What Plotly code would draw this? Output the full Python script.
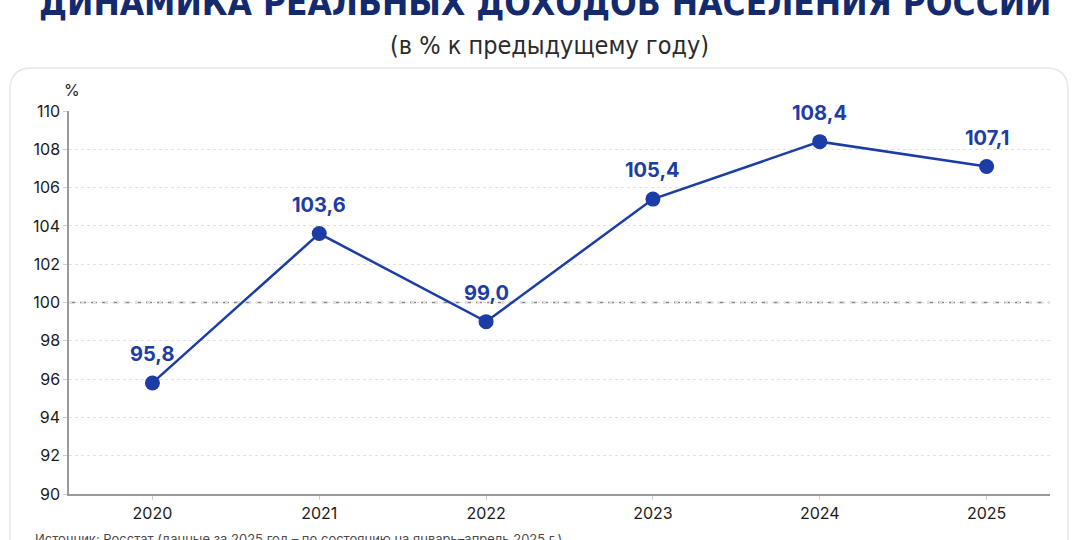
import plotly.graph_objects as go

years = ["2020", "2021", "2022", "2023", "2024", "2025"]
values = [95.8, 103.6, 99.0, 105.4, 108.4, 107.1]
y_ticks = [90, 92, 94, 96, 98, 100, 102, 104, 106, 108, 110]
baseline = 100

title = "ДИНАМИКА РЕАЛЬНЫХ ДОХОДОВ НАСЕЛЕНИЯ РОССИИ"
subtitle = "(в % к предыдущему году)"
source = "Источник: Росстат (данные за 2025 год – по состоянию на январь–апрель 2025 г.)"

W, H = 1080, 540
L, R, T, B = 69, 30, 111, 46
pw, ph = W - L - R, H - T - B

def px(x):
    return (x - L) / pw

def py(y):
    return (H - B - y) / ph

xs = list(range(len(years)))
blue = "#1c3ca6"

fig = go.Figure()
fig.add_trace(go.Scatter(
    x=xs, y=values, mode="lines+markers",
    line=dict(color=blue, width=2.5),
    marker=dict(color=blue, size=15),
    hoverinfo="skip", showlegend=False,
))

# baseline at 100: white underlay hides the dotted grid, then dashed line
fig.add_shape(type="line", xref="paper", yref="y", x0=0.002, x1=1, y0=baseline, y1=baseline,
              line=dict(color="white", width=3), layer="between")
fig.add_shape(type="line", xref="paper", yref="y", x0=0, x1=1, y0=baseline, y1=baseline,
              line=dict(color="#858585", width=1.5, dash="6px,5px"), layer="between")

annotations = []
for x, v in zip(xs, values):
    annotations.append(dict(
        x=x, y=v, xref="x", yref="y", text=f"{v:.1f}".replace(".", ","),
        showarrow=False, yshift=29,
        font=dict(family="Inter, Roboto, sans-serif", size=20, color=blue, weight="bold"),
    ))

annotations += [
    dict(x=px(545), y=py(3), xref="paper", yref="paper", xanchor="center", yanchor="middle",
         text="<b>" + title + "</b>", showarrow=False,
         font=dict(family="DejaVu Sans Condensed, Liberation Sans Narrow, sans-serif", size=35, color="#142a6e")),
    dict(x=px(549), y=py(46), xref="paper", yref="paper", xanchor="center", yanchor="middle",
         text=subtitle, showarrow=False,
         font=dict(family="DejaVu Sans Condensed, Roboto, sans-serif", size=25, color="#2b2b2b")),
    dict(x=px(62), y=py(90), xref="paper", yref="paper", xanchor="left", yanchor="middle",
         text="%", showarrow=False,
         font=dict(family="Inter, Roboto, sans-serif", size=16, color="#1a1a1a")),
    dict(x=px(33), y=py(539), xref="paper", yref="paper", xanchor="left", yanchor="middle",
         text=source, showarrow=False,
         font=dict(family="Inter, Roboto, sans-serif", size=13, color="#4a4a4a")),
]

# card rounded rectangle
x0, x1 = px(10), px(1068)
y0, y1 = py(600), py(68)
rx, ry = 22 / pw, 22 / ph
path = (f"M {x0},{y0} L {x0},{y1-ry} Q {x0},{y1} {x0+rx},{y1} "
        f"L {x1-rx},{y1} Q {x1},{y1} {x1},{y1-ry} L {x1},{y0}")
fig.add_shape(type="path", xref="paper", yref="paper", path=path,
              line=dict(color="#e3e7ee", width=1.5), layer="below")

fig.update_layout(
    width=W, height=H,
    margin=dict(l=L, r=R, t=T, b=B),
    paper_bgcolor="white", plot_bgcolor="white",
    annotations=annotations,
    xaxis=dict(
        range=[-0.5, 5.38], tickvals=xs, ticktext=years,
        showgrid=False, zeroline=False,
        showline=True, linecolor="#9a9a9a", linewidth=1.5,
        ticks="outside", ticklen=4, tickcolor="#cfcfcf",
        tickfont=dict(family="Inter, Roboto, sans-serif", size=16, color="#1a1a1a"),
    ),
    yaxis=dict(
        range=[90, 110], tickvals=y_ticks,
        showgrid=True, gridcolor="#e2e2e2", griddash="dot", gridwidth=1,
        zeroline=False,
        showline=True, linecolor="#9a9a9a", linewidth=1.5,
        ticks="outside", ticklen=4, tickcolor="#cfcfcf",
        tickfont=dict(family="Inter, Roboto, sans-serif", size=16, color="#1a1a1a"),
    ),
)

fig.write_html("out.html")
